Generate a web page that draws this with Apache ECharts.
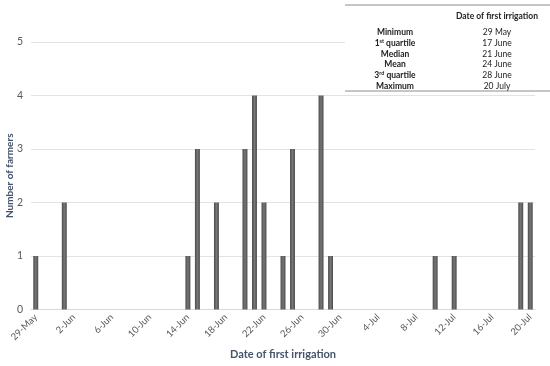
<!DOCTYPE html>
<html>
<head>
<meta charset="utf-8">
<script src="https://cdn.jsdelivr.net/npm/echarts@6/dist/echarts.min.js"></script>
<style>html,body{margin:0;padding:0;background:#fff}#c{width:550px;height:366px}</style>
</head>
<body>
<div id="c"></div>
<script>
const categories = ['29-May','30-May','31-May',
'1-Jun','2-Jun','3-Jun','4-Jun','5-Jun','6-Jun','7-Jun','8-Jun','9-Jun','10-Jun',
'11-Jun','12-Jun','13-Jun','14-Jun','15-Jun','16-Jun','17-Jun','18-Jun','19-Jun','20-Jun',
'21-Jun','22-Jun','23-Jun','24-Jun','25-Jun','26-Jun','27-Jun','28-Jun','29-Jun','30-Jun',
'1-Jul','2-Jul','3-Jul','4-Jul','5-Jul','6-Jul','7-Jul','8-Jul','9-Jul','10-Jul',
'11-Jul','12-Jul','13-Jul','14-Jul','15-Jul','16-Jul','17-Jul','18-Jul','19-Jul','20-Jul'];
const barDates  = ['29-May','1-Jun','14-Jun','15-Jun','17-Jun','20-Jun','21-Jun','22-Jun','24-Jun','25-Jun','28-Jun','29-Jun','10-Jul','12-Jul','19-Jul','20-Jul'];
const barCounts = [1,2,1,3,2,3,4,2,1,3,4,1,1,1,2,2];
const yTicks = [0,1,2,3,4,5];
const tableLabels = ['Minimum','1{sup|st} quartile','Median','Mean','3{sup|rd} quartile','Maximum'];
const tableValues = ['29 May','17 June','21 June','24 June','28 June','20 July'];
const tableHeader = 'Date of first irrigation';

const values = categories.map(c => { const i = barDates.indexOf(c); return i >= 0 ? barCounts[i] : 0; });

const FONT = 'Lato';
const chart = echarts.init(document.getElementById('c'), null, {renderer:'canvas'});

const graphic = [
  {type:'rect', shape:{x:345,y:4,width:205,height:88}, style:{fill:'#fff'}, z:100},
  {type:'line', shape:{x1:345,y1:5,x2:550,y2:5}, style:{stroke:'#8c8c8c',lineWidth:1}, z:101},
  {type:'line', shape:{x1:345,y1:91,x2:550,y2:91}, style:{stroke:'#8c8c8c',lineWidth:1}, z:101},
  {type:'text', x:497, y:16, style:{text:tableHeader, font:'bold 8.5px '+FONT, fill:'#222', align:'center', verticalAlign:'middle'}, z:102}
];
const rowY = [32,43,54,64,75,86];
tableLabels.forEach((t,i)=>{
  graphic.push({type:'text', x:395, y:rowY[i], style:{text:t, fontFamily:FONT, fontSize:8.5, fontWeight:'bold', fill:'#222', align:'center', verticalAlign:'middle',
    rich:{sup:{fontSize:5.5, fontWeight:'bold', fontFamily:FONT, fill:'#222', verticalAlign:'top', padding:[0,0,4,0]}}}, z:102});
  graphic.push({type:'text', x:497, y:rowY[i], style:{text:tableValues[i], font:'8.5px '+FONT, fill:'#222', align:'center', verticalAlign:'middle'}, z:102});
});

chart.setOption({
  animation:false,
  grid:{left:31, right:15, top:42, bottom:56.5, containLabel:false, outerBoundsMode:'none'},
  xAxis:{
    type:'category', data:categories,
    name:'Date of first irrigation', nameLocation:'middle', nameGap:39, nameMoveOverlap:false,
    nameTextStyle:{fontFamily:FONT, fontSize:11, fontWeight:'bold', color:'#44546A'},
    axisLine:{lineStyle:{color:'#d9d9d9'}},
    axisTick:{show:false},
    axisLabel:{interval:3, rotate:45, fontFamily:FONT, fontSize:9.5, color:'#595959', margin:6}
  },
  yAxis:{
    type:'value', min:yTicks[0], max:yTicks[yTicks.length-1], interval:1,
    name:'Number of farmers', nameLocation:'middle', nameGap:16, nameMoveOverlap:false,
    nameTextStyle:{fontFamily:FONT, fontSize:10, fontWeight:'bold', color:'#44546A'},
    axisLine:{show:false}, axisTick:{show:false},
    axisLabel:{fontFamily:FONT, fontSize:10.5, color:'#595959', margin:8},
    splitLine:{lineStyle:{color:'#e3e3e3'}}
  },
  series:[{
    type:'bar', data:values, barWidth:'52%',
    itemStyle:{color:new echarts.graphic.LinearGradient(0,0,1,0,[
      {offset:0,color:'#4a4a4a'},{offset:0.5,color:'#777777'},{offset:1,color:'#4a4a4a'}])}
  }],
  graphic:graphic
});
</script>
</body>
</html>
